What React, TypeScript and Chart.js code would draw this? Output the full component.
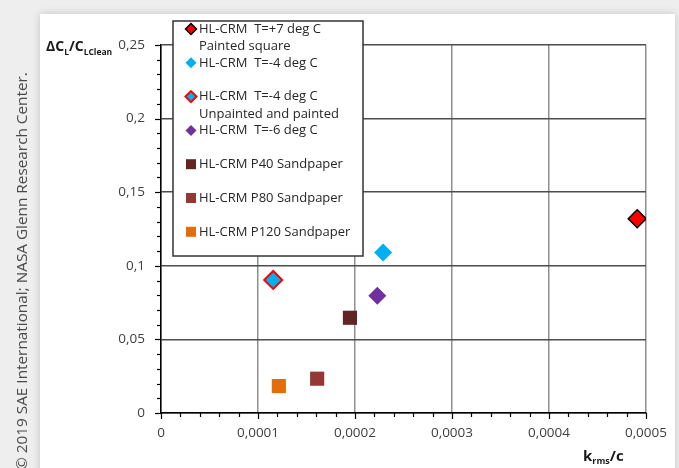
import React, { useEffect, useRef } from 'react';
import { Chart, registerables } from 'chart.js';

Chart.register(...registerables);

// ---- data ----
const seriesNames = [
  'HL-CRM  T=+7 deg C',
  'HL-CRM  T=-4 deg C',
  'HL-CRM  T=-4 deg C',
  'HL-CRM  T=-6 deg C',
  'HL-CRM P40 Sandpaper',
  'HL-CRM P80 Sandpaper',
  'HL-CRM P120 Sandpaper',
];
const seriesNotes = ['Painted square', '', 'Unpainted and painted', '', '', '', ''];
const kRmsOverC = [0.000491, 0.000229, 0.0001157, 0.000223, 0.0001948, 0.000161, 0.0001215];
const dClRatio = [0.132, 0.109, 0.0904, 0.0797, 0.0647, 0.0233, 0.0183];

const seriesFill = ['#ff0000', '#00b0f0', '#00b0f0', '#7030a0', '#632523', '#953735', '#e46c0a'];
const seriesBorder = ['#000000', '#00b0f0', '#ff0000', '#7030a0', '#632523', '#953735', '#e46c0a'];
const seriesBorderWidth = [1.5, 0, 2, 0, 0, 0, 0];
const seriesShape = ['rectRot', 'rectRot', 'rectRot', 'rectRot', 'rect', 'rect', 'rect'];

const xTickValues = [0, 0.0001, 0.0002, 0.0003, 0.0004, 0.0005];
const xTickLabels = ['0', '0,0001', '0,0002', '0,0003', '0,0004', '0,0005'];
const yTickValues = [0, 0.05, 0.1, 0.15, 0.2, 0.25];
const yTickLabels = ['0', '0,05', '0,1', '0,15', '0,2', '0,25'];
const xMinorStep = 0.00002;
const yMinorStep = 0.01;

const FONT = '"Open Sans", "DejaVu Sans", sans-serif';

const customPlugin = {
  id: 'custom',
  afterDraw(chart: any) {
    const ctx = chart.ctx as CanvasRenderingContext2D;
    const xs = chart.scales.x;
    const ys = chart.scales.y;
    const area = chart.chartArea;
    ctx.save();
    // axis tick marks
    ctx.strokeStyle = '#000';
    ctx.lineWidth = 1.2;
    const nx = Math.round((xs.max - xs.min) / xMinorStep);
    for (let i = 0; i <= nx; i++) {
      const px = Math.round(xs.getPixelForValue(xs.min + i * xMinorStep)) + 0.5;
      const len = i % 5 === 0 ? 6 : 4;
      ctx.beginPath();
      ctx.moveTo(px, area.bottom);
      ctx.lineTo(px, area.bottom + len);
      ctx.stroke();
    }
    const ny = Math.round((ys.max - ys.min) / yMinorStep);
    for (let i = 0; i <= ny; i++) {
      const py = Math.round(ys.getPixelForValue(ys.min + i * yMinorStep)) + 0.5;
      const len = i % 5 === 0 ? 6 : 4;
      ctx.beginPath();
      ctx.moveTo(area.left, py);
      ctx.lineTo(area.left - len, py);
      ctx.stroke();
    }

    // legend box
    const lx = 173, ly = 21, lw = 190, lh = 235;
    ctx.fillStyle = '#ffffff';
    ctx.fillRect(lx, ly, lw, lh);
    ctx.strokeStyle = '#333333';
    ctx.lineWidth = 1.5;
    ctx.strokeRect(lx, ly, lw, lh);
    const rowH = 33.8;
    ctx.font = `13px ${FONT}`;
    ctx.textBaseline = 'middle';
    ctx.textAlign = 'left';
    for (let i = 0; i < seriesNames.length; i++) {
      const cy = ly + 8 + i * rowH;
      const mx = lx + 18;
      ctx.beginPath();
      if (seriesShape[i] === 'rectRot') {
        const r = 5.5;
        ctx.moveTo(mx, cy - r);
        ctx.lineTo(mx + r, cy);
        ctx.lineTo(mx, cy + r);
        ctx.lineTo(mx - r, cy);
        ctx.closePath();
      } else {
        ctx.rect(mx - 5, cy - 5, 10, 10);
      }
      ctx.fillStyle = seriesFill[i];
      ctx.fill();
      if (seriesBorderWidth[i] > 0) {
        ctx.strokeStyle = seriesBorder[i];
        ctx.lineWidth = seriesBorderWidth[i];
        ctx.stroke();
      }
      ctx.fillStyle = '#262626';
      ctx.fillText(seriesNames[i], lx + 26, cy);
      if (seriesNotes[i]) ctx.fillText(seriesNotes[i], lx + 26, cy + 17.5);
    }

    // axis titles with subscripts
    const drawParts = (parts: [string, boolean][], x: number, y: number, size: number, subSize: number, subDy: number) => {
      let cx = x;
      for (const [t, sub] of parts) {
        ctx.font = `bold ${sub ? subSize : size}px ${FONT}`;
        ctx.fillText(t, cx, sub ? y + subDy : y);
        cx += ctx.measureText(t).width;
      }
    };
    ctx.fillStyle = '#1a1a1a';
    ctx.textBaseline = 'alphabetic';
    drawParts([['ΔC', false], ['L', true], ['/C', false], ['LClean', true]], 46, 51, 14, 8.5, 3.5);
    drawParts([['k', false], ['rms', true], ['/c', false]], 583, 461, 15, 9, 3);

    // copyright text
    ctx.save();
    const txt = '© 2019 SAE International; NASA Glenn Research Center.';
    ctx.font = `14px ${FONT}`;
    const w14 = ctx.measureText(txt).width;
    const size = 14 * 398 / w14;
    ctx.font = `${size}px ${FONT}`;
    ctx.translate(27, 470);
    ctx.rotate(-Math.PI / 2);
    ctx.fillStyle = '#4a4a4a';
    ctx.textAlign = 'left';
    ctx.fillText(txt, 0, 0);
    ctx.restore();

    ctx.restore();
  },
};

export default function App() {
  const ref = useRef<HTMLCanvasElement>(null);
  useEffect(() => {
    if (!ref.current) return;
    const datasets = seriesNames.map((name, i) => ({
      label: name,
      data: [{ x: kRmsOverC[i], y: dClRatio[i] }],
      pointStyle: seriesShape[i],
      pointRadius: seriesShape[i] === 'rect' ? 10 : 9,
      backgroundColor: seriesFill[i],
      borderColor: seriesBorder[i],
      borderWidth: seriesBorderWidth[i],
    }));
    const tickFont = { family: FONT, size: 13.5 };
    const chart = new Chart(ref.current, {
      type: 'scatter',
      data: { datasets },
      options: {
        animation: false,
        responsive: false,
        maintainAspectRatio: false,
        devicePixelRatio: 1,
        layout: { padding: { left: 0, top: 45, right: 31, bottom: 0 } },
        plugins: { legend: { display: false }, tooltip: { enabled: false } },
        scales: {
          x: {
            type: 'linear',
            min: 0,
            max: 0.0005,
            afterBuildTicks: (s: any) => { s.ticks = xTickValues.map((v) => ({ value: v })); },
            afterFit: (s: any) => { s.height = 55; },
            ticks: {
              callback: (_v: any, i: number) => xTickLabels[i],
              font: tickFont,
              color: '#404040',
              padding: 12,
              maxRotation: 0,
              autoSkip: false,
            },
            grid: { color: '#8f8f8f', lineWidth: 1.5, drawTicks: false },
            border: { color: '#000000', width: 1.5 },
          },
          y: {
            type: 'linear',
            min: 0,
            max: 0.25,
            afterBuildTicks: (s: any) => { s.ticks = yTickValues.map((v) => ({ value: v })); },
            afterFit: (s: any) => { s.width = 161; },
            ticks: {
              callback: (_v: any, i: number) => yTickLabels[i],
              font: tickFont,
              color: '#404040',
              padding: 16,
              autoSkip: false,
            },
            grid: { color: '#4d4d4d', lineWidth: 1.5, drawTicks: false },
            border: { color: '#000000', width: 1.5 },
          },
        },
      },
      plugins: [customPlugin],
    } as any);
    return () => chart.destroy();
  }, []);
  return (
    <div style={{ position: 'absolute', left: 0, top: 0, width: 679, height: 468, background: '#eeeeee', overflow: 'hidden' }}>
      <div style={{ position: 'absolute', left: 40, top: 14, width: 635, height: 470, background: '#ffffff', boxShadow: '0 0 8px rgba(0,0,0,0.18)' }} />
      <canvas ref={ref} width={679} height={468} style={{ position: 'absolute', left: 0, top: 0, width: 679, height: 468 }} />
    </div>
  );
}
